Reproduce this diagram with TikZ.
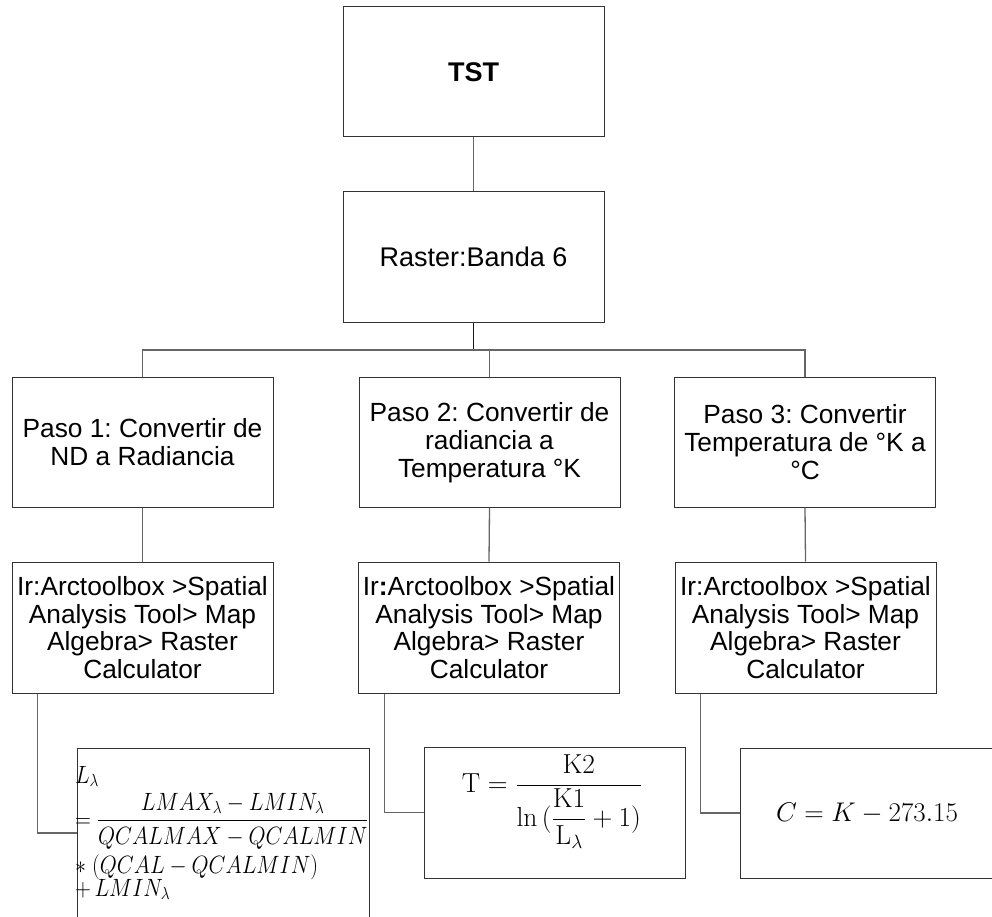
\RequirePackage{fix-cm}
\documentclass[tikz,border=0pt]{standalone}
\usepackage{amsmath}
\usepackage{graphicx}
\usepackage[no-math]{fontspec}
\setmainfont{Liberation Sans}
\frenchspacing

\tikzset{
  box/.style={draw=black!80, line width=1pt, minimum width=261pt, minimum height=130pt,
    inner sep=0pt, align=center, font=\fontsize{26.3}{28.3}\selectfont},
  irbox/.style={box, minimum height=131pt, font=\fontsize{26.3}{27.4}\selectfont},
  bigbox/.style={box, font=\fontsize{27}{31}\selectfont},
  eqbox/.style={draw=black!80, line width=1pt, inner sep=0pt},
  link/.style={draw=black!60, line width=1.3pt},
  stem/.style={draw=black!90, line width=1.8pt},
  mathtxt/.style={inner sep=0pt, outer sep=0pt},
}

\begin{document}
\begin{tikzpicture}[x=1pt, y=-1pt]
\useasboundingbox (0,0) rectangle (992,917);

% top of the tree
\node[bigbox] (tst) at (473.5,72) {\textbf{TST}};
\node[bigbox] (raster) at (473.5,257) {Raster:Banda 6};

% three steps
\node[box] (p1) at (142.5,442) {Paso 1: Convertir de\\ND a Radiancia};
\node[box] (p2) at (489.5,442.5) {Paso 2: Convertir de\\radiancia a\\Temperatura °K};
\node[box] (p3) at (805,442) {Paso 3: Convertir\\Temperatura de °K a\\°C};

% tool path for each step
\node[irbox] (ir1) at (142.5,627.5) {Ir:Arctoolbox >Spatial\\Analysis Tool> Map\\Algebra> Raster\\Calculator};
\node[irbox] (ir2) at (489,627.5) {Ir\textbf{:}Arctoolbox >Spatial\\Analysis Tool> Map\\Algebra> Raster\\Calculator};
\node[irbox] (ir3) at (805.5,627.5) {Ir:Arctoolbox >Spatial\\Analysis Tool> Map\\Algebra> Raster\\Calculator};

% formula boxes
\node[eqbox, minimum width=292pt, minimum height=177pt] (f1) at (223,836.5) {};
\node[eqbox, minimum width=261pt, minimum height=131pt] (f2) at (554.5,812.5) {};
\node[eqbox, minimum width=256pt, minimum height=130pt] (f3) at (868,813) {};

% radiance formula, wrapped over several lines
\begin{scope}[every node/.style={mathtxt, font=\fontsize{25}{30}\selectfont}]
\node[anchor=base west] (f1a) at (75,783) {\scalebox{0.88}[1]{$L_\lambda$}};
\node[anchor=west] (f1b) at (75,821) {\scalebox{0.88}[1]{$=\dfrac{LMAX_\lambda - LMIN_\lambda}{QCALMAX - QCALMIN}$}};
\node[anchor=base west] (f1c) at (75,873) {\scalebox{0.88}[1]{$\ast\;(QCAL - QCALMIN)$}};
\node[anchor=base west] (f1d) at (75,896) {\scalebox{0.88}[1]{$+\,LMIN_\lambda$}};
\end{scope}

% temperature formulas
\node[mathtxt, anchor=base, font=\fontsize{27.5}{32}\selectfont] (f2t) at (552,792)
  {$\mathrm{T} = \dfrac{\mathrm{K2}}{\ln\,(\dfrac{\mathrm{K1}}{\mathrm{L}_\lambda} + 1)}$};
\node[mathtxt, anchor=base, font=\fontsize{27}{32}\selectfont] (f3t) at (867,821)
  {$C = K - 273.15$};

% connectors
\coordinate (busL) at (142.5,350);
\coordinate (busR) at (805,350);
\draw[link] (tst.south) -- (raster.north);
\draw[stem] (raster.south) -- (raster.south |- busL);
\draw[link] (raster.south |- busL) -- (p2.north |- busL);
\draw[link] (p1.north) -- (busL) -- (busR) -- (p3.north);
\draw[link] (p2.north |- busL) -- (p2.north);
\draw[link] (p1.south) -- (ir1.north);
\draw[link] (p2.south) -- (ir2.north);
\draw[link] (p3.south) -- (ir3.north);
\draw[link] ([xshift=26pt]ir1.south west) |- ([yshift=3.5pt]f1.west);
\draw[link] ([xshift=26.5pt]ir2.south west) |- (f2.west);
\draw[link] ([xshift=26pt]ir3.south west) |- (f3.west);
\end{tikzpicture}
\end{document}
